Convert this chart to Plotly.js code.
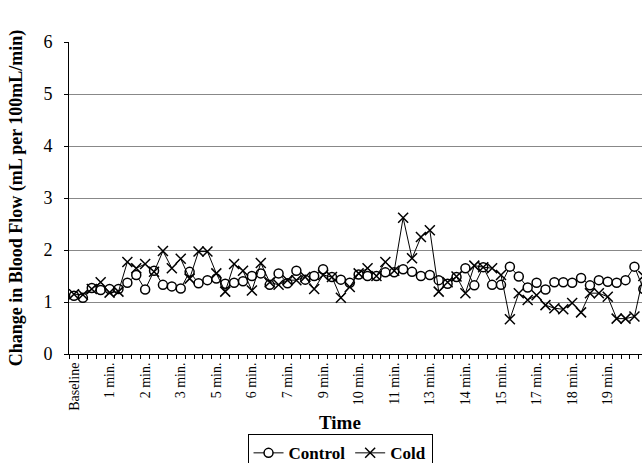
<!DOCTYPE html>
<html>
<head>
<meta charset="utf-8">
<script src="https://cdn.plot.ly/plotly-3.0.1.min.js"></script>
<style>html,body{margin:0;padding:0;background:#fff;}#chart{width:642px;height:463px;}</style>
</head>
<body>
<div id="chart"></div>
<script>
// Tick labels shown every 4th sample
const tickLabels = ['Baseline','1 min.','2 min.','3 min.','5 min.','6 min.','7 min.','9 min.','10 min.','11 min.','13 min.','14 min.','15 min.','17 min.','18 min.','19 min.','20 min.'];
const controlValues = [1.12,1.08,1.27,1.23,1.25,1.25,1.37,1.52,1.24,1.6,1.33,1.3,1.26,1.58,1.36,1.42,1.45,1.35,1.37,1.4,1.5,1.55,1.33,1.55,1.36,1.6,1.43,1.5,1.63,1.48,1.43,1.37,1.53,1.5,1.5,1.57,1.57,1.63,1.58,1.5,1.52,1.42,1.35,1.48,1.65,1.32,1.67,1.33,1.33,1.68,1.49,1.28,1.37,1.24,1.38,1.38,1.37,1.46,1.32,1.42,1.39,1.37,1.42,1.68,1.25];
const coldValues = [1.15,1.14,1.25,1.38,1.18,1.2,1.77,1.65,1.73,1.58,1.98,1.65,1.83,1.45,1.97,1.97,1.55,1.2,1.73,1.6,1.22,1.75,1.38,1.33,1.42,1.42,1.48,1.25,1.52,1.48,1.08,1.29,1.55,1.65,1.5,1.77,1.6,2.62,1.84,2.25,2.38,1.2,1.38,1.49,1.17,1.7,1.67,1.65,1.52,0.67,1.17,1.04,1.13,0.94,0.88,0.86,0.98,0.8,1.17,1.17,1.1,0.68,0.68,0.72,1.5];
const labelStep = 4;

const xs = controlValues.map((_, i) => i);
const serif = '"Liberation Serif", "Times New Roman", serif';

const traces = [
  {
    x: xs, y: controlValues, name: 'Control', type: 'scatter', mode: 'lines+markers',
    line: {color: '#000', width: 1},
    marker: {symbol: 'circle', size: 9, color: '#fff', line: {color: '#000', width: 1.5}}
  },
  {
    x: xs, y: coldValues, name: 'Cold', type: 'scatter', mode: 'lines+markers',
    line: {color: '#000', width: 1},
    marker: {symbol: 'x-thin-open', size: 10, color: '#000', line: {color: '#000', width: 1.5}}
  }
];

const layout = {
  width: 642, height: 463,
  margin: {l: 69, r: 0, t: 42, b: 109},
  paper_bgcolor: '#fff', plot_bgcolor: '#fff',
  showlegend: true,
  font: {family: serif, color: '#000'},
  xaxis: {
    range: [-0.56, 63.85],
    automargin: false,
    tickmode: 'array',
    tickvals: tickLabels.map((_, i) => i * labelStep),
    ticktext: tickLabels,
    tickangle: -90,
    tickfont: {family: serif, size: 14, color: '#000'},
    ticks: '',
    ticklabelstandoff: 2,
    minor: {tick0: 0.5, dtick: 1, ticks: 'outside', ticklen: 4, tickcolor: '#000', tickwidth: 1, showgrid: false},
    showline: true, linecolor: '#000', linewidth: 1,
    showgrid: false, zeroline: false
  },
  yaxis: {
    range: [0, 6], dtick: 1,
    automargin: false,
    tickfont: {family: serif, size: 18, color: '#000'},
    ticks: 'outside', ticklen: 4, tickcolor: '#000',
    ticklabelstandoff: 8,
    showline: true, linecolor: '#000', linewidth: 1,
    showgrid: true, gridcolor: '#888', gridwidth: 1,
    zeroline: false,
    title: {text: 'Change in Blood Flow (mL per 100mL/min)', font: {family: serif, size: 18, color: '#000', weight: 'bold'}, standoff: 16}
  },
  annotations: [
    {text: 'Time', xref: 'paper', yref: 'paper', x: 0.473, y: -0.221, xanchor: 'center', yanchor: 'middle', showarrow: false, font: {family: serif, size: 19, color: '#000', weight: 'bold'}}
  ],
  legend: {
    orientation: 'h', x: 0.473, xanchor: 'center',
    yref: 'container', y: 0.062, yanchor: 'top',
    bordercolor: '#000', borderwidth: 1, bgcolor: '#fff',
    font: {family: serif, size: 17, color: '#000', weight: 'bold'},
    itemwidth: 30
  }
};

Plotly.newPlot('chart', traces, layout, {displayModeBar: false, staticPlot: true});
</script>
</body>
</html>
